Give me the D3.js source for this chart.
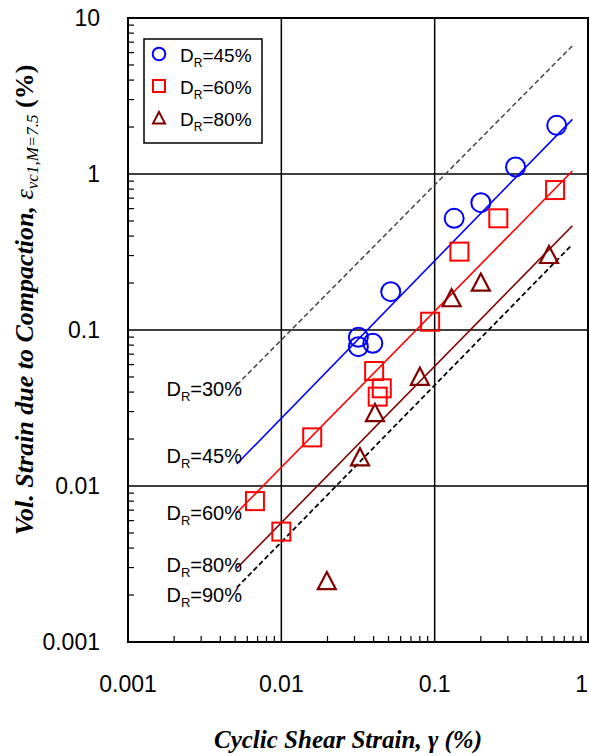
<!DOCTYPE html>
<html>
<head>
<meta charset="utf-8">
<script src="https://cdn.jsdelivr.net/npm/d3@7"></script>
<style>
  body { margin: 0; background: #fff; }
  svg { display: block; }
  .tick-label { font-family: "Liberation Sans", Arial, sans-serif; font-size: 23px; fill: #000; }
  .dr-label { font-family: "Liberation Sans", Arial, sans-serif; font-size: 20px; fill: #000; }
  .axis-title { font-family: "Liberation Serif", "Times New Roman", serif; font-weight: bold; font-style: italic; fill: #000; }
</style>
</head>
<body>
<svg id="chart" width="589" height="756"></svg>
<script>
// tick values
const xTicks = [0.001, 0.01, 0.1, 1];
const yTicks = [0.001, 0.01, 0.1, 1, 10];
const xTickLabels = ['0.001', '0.01', '0.1', '1'];
const yTickLabels = ['0.001', '0.01', '0.1', '1', '10'];

// test data: [cyclic shear strain %, vol strain %]
const dr45 = [[0.0318, 0.0898], [0.0318, 0.0782], [0.0395, 0.0822], [0.0517, 0.176],
              [0.134, 0.520], [0.200, 0.655], [0.337, 1.11], [0.625, 2.05]];
const dr60 = [[0.00673, 0.0080], [0.0100, 0.0051], [0.0159, 0.0205], [0.0403, 0.0546],
              [0.0452, 0.0423], [0.0425, 0.0374], [0.0934, 0.113], [0.145, 0.318],
              [0.260, 0.520], [0.610, 0.789]];
const dr80 = [[0.0198, 0.00246], [0.0326, 0.0153], [0.0408, 0.0294], [0.0801, 0.0502],
              [0.129, 0.160], [0.200, 0.2015], [0.557, 0.303]];

// relationship lines (end points)
const line30 = [[0.00512, 0.0444], [0.791, 6.64]];
const line45 = [[0.00512, 0.01384], [0.791, 2.24]];
const line60 = [[0.00512, 0.00675], [0.791, 1.045]];
const line80 = [[0.00512, 0.00297], [0.791, 0.466]];
const line90 = [[0.00512, 0.00223], [0.791, 0.354]];

const lineNames = ['30%', '45%', '60%', '80%', '90%'];
const legendNames = ['45%', '60%', '80%'];

(function chart(){
  const svg = d3.select('#chart');
  const m = { left: 128, right: 588, top: 18, bottom: 642 };

  const x = d3.scaleLog().domain([0.001, 1]).range([m.left, m.right]);
  const y = d3.scaleLog().domain([0.001, 10]).range([m.bottom, m.top]);

  const BLUE = '#0000ff', RED = '#ff0000', DARK = '#800000';

  // minor ticks (inside, left + bottom)
  const minorX = [], minorY = [];
  [0.001, 0.01, 0.1].forEach(d => { for (let k = 2; k <= 9; k++) minorX.push(d * k); });
  [0.001, 0.01, 0.1, 1].forEach(d => { for (let k = 2; k <= 9; k++) minorY.push(d * k); });

  svg.append('g').selectAll('line')
    .data(minorX)
    .join('line')
      .attr('x1', d => x(d)).attr('x2', d => x(d))
      .attr('y1', m.bottom).attr('y2', m.bottom - 6)
      .attr('stroke', '#000').attr('stroke-width', 1.2);

  svg.append('g').selectAll('line')
    .data(minorY)
    .join('line')
      .attr('x1', m.left).attr('x2', m.left + 6)
      .attr('y1', d => y(d)).attr('y2', d => y(d))
      .attr('stroke', '#000').attr('stroke-width', 1.2);

  // grid lines
  svg.append('g').selectAll('line')
    .data(xTicks.slice(1, -1))
    .join('line')
      .attr('x1', d => x(d)).attr('x2', d => x(d))
      .attr('y1', m.top).attr('y2', m.bottom)
      .attr('stroke', '#000').attr('stroke-width', 1.5);

  svg.append('g').selectAll('line')
    .data(yTicks.slice(1, -1))
    .join('line')
      .attr('x1', m.left).attr('x2', m.right)
      .attr('y1', d => y(d)).attr('y2', d => y(d))
      .attr('stroke', '#000').attr('stroke-width', 1.5);

  // frame
  svg.append('rect')
    .attr('x', m.left).attr('y', m.top)
    .attr('width', m.right - m.left).attr('height', m.bottom - m.top)
    .attr('fill', 'none').attr('stroke', '#000').attr('stroke-width', 2);

  // tick labels (last x label kept inside the page edge)
  const last = xTicks.length - 1;
  svg.append('g').selectAll('text')
    .data(xTicks)
    .join('text')
      .attr('class', 'tick-label')
      .attr('x', (d, i) => i === last ? 588 : x(d))
      .attr('y', 692)
      .attr('text-anchor', (d, i) => i === last ? 'end' : 'middle')
      .text((d, i) => xTickLabels[i]);

  svg.append('g').selectAll('text')
    .data(yTicks)
    .join('text')
      .attr('class', 'tick-label')
      .attr('x', 100)
      .attr('y', d => y(d) + 8)
      .attr('text-anchor', 'end')
      .text((d, i) => yTickLabels[i]);

  // relationship lines
  const path = d3.line().x(d => x(d[0])).y(d => y(d[1]));
  const lines = [
    { pts: line30, color: '#444', width: 1.5, dash: '5,3' },
    { pts: line45, color: BLUE, width: 1.6, dash: null },
    { pts: line60, color: RED, width: 1.6, dash: null },
    { pts: line80, color: DARK, width: 1.6, dash: null },
    { pts: line90, color: '#000', width: 1.8, dash: '5,3' }
  ];
  svg.append('g').selectAll('path')
    .data(lines)
    .join('path')
      .attr('d', d => path(d.pts))
      .attr('fill', 'none')
      .attr('stroke', d => d.color)
      .attr('stroke-width', d => d.width)
      .attr('stroke-dasharray', d => d.dash);

  // D_R labels at left end of each line
  const lblY = [396, 463, 520, 572, 602];
  const lbl = svg.append('g').selectAll('text')
    .data(lineNames)
    .join('text')
      .attr('class', 'dr-label')
      .attr('x', 242)
      .attr('y', (d, i) => lblY[i])
      .attr('text-anchor', 'end');
  lbl.append('tspan').text('D');
  lbl.append('tspan').attr('font-size', 13).attr('dy', 5).text('R');
  lbl.append('tspan').attr('dy', -5).text(d => '=' + d);

  // markers
  svg.append('g').selectAll('circle')
    .data(dr45)
    .join('circle')
      .attr('cx', d => x(d[0])).attr('cy', d => y(d[1]))
      .attr('r', 9.5)
      .attr('fill', 'none').attr('stroke', BLUE).attr('stroke-width', 2);

  svg.append('g').selectAll('rect')
    .data(dr60)
    .join('rect')
      .attr('x', d => x(d[0]) - 9).attr('y', d => y(d[1]) - 9)
      .attr('width', 18).attr('height', 18)
      .attr('fill', 'none').attr('stroke', RED).attr('stroke-width', 2);

  const tri = s => `M0,${-s}L${s},${s * 0.9}L${-s},${s * 0.9}Z`;
  svg.append('g').selectAll('path')
    .data(dr80)
    .join('path')
      .attr('transform', d => `translate(${x(d[0])},${y(d[1])})`)
      .attr('d', tri(9))
      .attr('fill', 'none').attr('stroke', DARK).attr('stroke-width', 2.2);

  // legend
  const lg = svg.append('g');
  lg.append('rect')
    .attr('x', 144).attr('y', 39).attr('width', 118).attr('height', 104)
    .attr('fill', '#fff').attr('stroke', '#000').attr('stroke-width', 1.5);
  const rowY = [54, 86, 118];
  lg.append('circle').attr('cx', 159).attr('cy', rowY[0]).attr('r', 6.3)
    .attr('fill', 'none').attr('stroke', BLUE).attr('stroke-width', 2);
  lg.append('rect').attr('x', 153).attr('y', rowY[1] - 6).attr('width', 12).attr('height', 12)
    .attr('fill', 'none').attr('stroke', RED).attr('stroke-width', 2);
  lg.append('path').attr('transform', `translate(159,${rowY[2]})`).attr('d', tri(6))
    .attr('fill', 'none').attr('stroke', DARK).attr('stroke-width', 2);
  const lt = lg.selectAll('text.leg')
    .data(legendNames)
    .join('text')
      .attr('class', 'dr-label')
      .attr('x', 180)
      .attr('y', (d, i) => rowY[i] + 8)
      .style('font-size', '19px');
  lt.append('tspan').text('D');
  lt.append('tspan').attr('font-size', 12).attr('dy', 5).text('R');
  lt.append('tspan').attr('dy', -5).text(d => '=' + d);

  // axis titles
  svg.append('text')
    .attr('class', 'axis-title')
    .attr('x', 348).attr('y', 748)
    .attr('text-anchor', 'middle')
    .style('font-size', '25px')
    .text('Cyclic Shear Strain, γ (%)');

  const yt = svg.append('text')
    .attr('class', 'axis-title')
    .attr('transform', 'translate(33,300) rotate(-90)')
    .attr('text-anchor', 'middle')
    .style('font-size', '26px');
  yt.append('tspan').text('Vol. Strain due to Compaction, ');
  yt.append('tspan').attr('font-weight', 'normal').text('ε');
  yt.append('tspan').attr('font-weight', 'normal').attr('font-size', 17).attr('dy', 5).text('vc1,M=7.5');
  yt.append('tspan').attr('font-style', 'normal').attr('dy', -5).text(' (%)');
})();
</script>
</body>
</html>
